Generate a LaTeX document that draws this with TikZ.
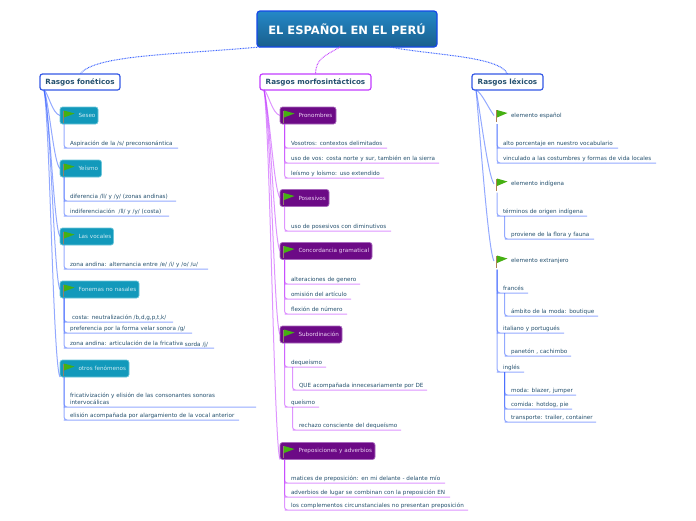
\documentclass[tikz,border=0pt]{standalone}
\usepackage{fontspec}
\setmainfont{DejaVu Sans}
\definecolor{bluel}{HTML}{3A62FF}
\definecolor{magl}{HTML}{C23CFF}
\definecolor{txt}{HTML}{24506E}
\definecolor{HTMLteal}{HTML}{1299BB}
\definecolor{HTMLtealb}{HTML}{6CC6DA}
\definecolor{HTMLtealt}{HTML}{CFEAF2}
\definecolor{HTMLpurp}{HTML}{6C0A86}
\definecolor{HTMLpurpb}{HTML}{A868BC}
\definecolor{HTMLpurpt}{HTML}{EBD2F2}
\definecolor{HTMLta}{HTML}{2488C8}
\definecolor{HTMLtb}{HTML}{1A5F8C}
\definecolor{HTMLtc}{HTML}{1448E8}
\definecolor{flagg}{HTML}{45B012}
\tikzset{
 every node/.style={outer sep=0pt},
 leaf/.style={inner xsep=0pt,inner ysep=1.7pt,text depth=1.2pt,align=left,text=txt,font=\fontsize{5.65}{7}\selectfont},
 conn/.style={line width=1pt,draw opacity=.55,rounded corners=3pt,line join=round},
 branch/.style={line width=1pt,draw opacity=.55},
 top/.style={rounded corners=2.5pt,fill=white,line width=1.2pt,anchor=north west,inner sep=0pt,minimum height=16pt,text=txt,font=\bfseries\fontsize{7.2}{8}\selectfont},
 subbox/.style={rounded corners=2.5pt,line width=.7pt,anchor=north west,inner xsep=0pt,inner ysep=0pt,minimum height=17pt,align=left,font=\fontsize{5.65}{7}\selectfont},
 teal/.style={subbox,fill=HTMLteal,draw=HTMLtealb,text=HTMLtealt},
 purp/.style={subbox,fill=HTMLpurp,draw=HTMLpurpb,text=HTMLpurpt},
 plain/.style={anchor=north west,inner xsep=0pt,inner ysep=0pt,minimum height=17pt,align=left,text=txt,font=\fontsize{5.65}{7}\selectfont},
 dots/.style={line width=1pt,dash pattern=on .8pt off .8pt},
}
% leaf: colour, name, parent, trunk offset, text x, underline y, right x, text
\newcommand\lf[8]{%
 \pgfmathsetlengthmacro\lfw{(#7-#5)*1pt}%
 \node[leaf,text width=\lfw,anchor=south west] (#2) at (#5,#6) {\mbox{#8}};
 \draw[conn,#1] ([xshift=#4pt]#3.south west) |- ([xshift=-3pt]#2.south west) -- (#2.south east);
}
% sub box: style, name, x, y, width, text
\newcommand\sbx[6]{%
 \node[#1,text width=#5pt] (#2) at (#3,#4) {\hspace*{18.5pt}#6};
 \coordinate (#2f) at ([xshift=3pt,yshift=-3.5pt]#2.north west);
 \fill[gray!70!brown] (#2f) rectangle ([xshift=1.2pt,yshift=-12pt]#2f);
 \fill[flagg] ([xshift=1pt]#2f) -- ([xshift=11.5pt,yshift=-3pt]#2f) -- ([xshift=1pt,yshift=-7pt]#2f) -- cycle;
}
\begin{document}
\begin{tikzpicture}[x=1pt,y=-1pt]
\useasboundingbox (0,0) rectangle (696,520);
% title
\node[anchor=north west,minimum width=180pt,minimum height=36pt,inner sep=0pt,rounded corners=3pt,
  top color=HTMLta,bottom color=HTMLtb,draw=HTMLtc,line width=1.2pt,text=white,font=\bfseries\fontsize{11.5}{13}\selectfont] (main) at (257,11) {EL ESPAÑOL EN EL PERÚ};
\node[top,draw=bluel!90!black,minimum width=80pt] (fon) at (40,74) {Rasgos fonéticos};
\node[top,draw=magl,minimum width=111pt] (mor) at (260,74) {Rasgos morfosintácticos};
\node[top,draw=bluel!90!black,minimum width=71pt] (lex) at (472,74) {Rasgos léxicos};
\draw[dots,bluel] ([xshift=3pt]main.south west) .. controls (170,55) and (95,55) .. (fon.north);
\draw[dots,magl] ([xshift=83pt]main.south west) .. controls (325,56) and (316,58) .. (mor.north);
\draw[dots,bluel] ([xshift=133pt]main.south west) .. controls (430,55) and (500,56) .. ([xshift=0pt]lex.north);
% left
\sbx{teal}{seseo}{60}{107}{38}{Seseo}
\sbx{teal}{yeismo}{60}{160}{41.5}{Yeísmo}
\sbx{teal}{voc}{60}{228}{53.5}{Las vocales}
\sbx{teal}{fonem}{60}{281}{79}{Fonemas no nasales}
\sbx{teal}{otros}{60}{360}{69}{otros fenómenos}
\draw[branch,bluel] ([xshift=4pt]fon.south west) .. controls +(4,2) and +(-8,-2) .. (seseo.west);
\draw[branch,bluel] ([xshift=4pt]fon.south west) .. controls +(5,12) and +(-6,-4) .. (yeismo.west);
\draw[branch,bluel] ([xshift=4pt]fon.south west) .. controls +(6,25) and +(-6,-8) .. (voc.west);
\draw[branch,bluel] ([xshift=4pt]fon.south west) .. controls +(7,30) and +(-6,-10) .. (fonem.west);
\draw[branch,bluel] ([xshift=4pt]fon.south west) .. controls +(6,35) and +(-7,-12) .. (otros.south west);
\lf{bluel}{a1}{seseo}{4}{70}{148}{178}{Aspiración de la /s/ preconsonántica}
\lf{bluel}{a2}{yeismo}{4}{70}{201}{176}{diferencia /ll/ y /y/ (zonas andinas)}
\lf{bluel}{a3}{yeismo}{4}{70}{216}{169}{indiferenciación\ \ /ll/ y /y/ (costa)}
\lf{bluel}{a4}{voc}{4}{70}{269}{208}{zona andina: alternancia entre /e/ /i/ y /o/ /u/}
\lf{bluel}{a5}{fonem}{4}{70}{322}{173}{\hspace*{2pt}costa: neutralización /b,d,g,p,t,k/}
\lf{bluel}{a6}{fonem}{4}{70}{333}{192}{preferencia por la forma velar sonora /g/}
\lf{bluel}{a7}{fonem}{4}{70}{348}{214}{zona andina: articulación de la fricativa \raisebox{-1pt}{sorda /j/}}
\lf{bluel}{a8}{otros}{4}{70}{407}{256}{\parbox[b]{186pt}{\raggedright fricativización y elisión de las consonantes sonoras\\intervocálicas}}
\lf{bluel}{a9}{otros}{4}{70}{420}{239}{elisión acompañada por alargamiento de la vocal anterior}
% middle
\sbx{purp}{pron}{280}{107}{56}{Pronombres}
\sbx{purp}{pos}{280}{189.5}{49}{Posesivos}
\sbx{purp}{conc}{280}{242.5}{92}{Concordancia gramatical}
\sbx{purp}{subo}{280}{326}{62}{Subordinación}
\sbx{purp}{prep}{280}{442.5}{95}{Preposiciones y adverbios}
\draw[branch,magl] ([xshift=4pt]mor.south west) .. controls +(4,2) and +(-8,-2) .. (pron.west);
\draw[branch,magl] ([xshift=4pt]mor.south west) .. controls +(6,25) and +(-6,-8) .. (pos.west);
\draw[branch,magl] ([xshift=4pt]mor.south west) .. controls +(7,30) and +(-6,-10) .. (conc.west);
\draw[branch,magl] ([xshift=4pt]mor.south west) .. controls +(7,35) and +(-6,-10) .. (subo.west);
\draw[branch,magl] ([xshift=4pt]mor.south west) .. controls +(6,40) and +(-6,-14) .. (prep.south west);
\lf{magl}{b1}{pron}{4.5}{291}{148}{387}{Vosotros: contextos delimitados}
\lf{magl}{b2}{pron}{4.5}{291}{163}{439}{uso de vos: costa norte y sur, también en la sierra}
\lf{magl}{b3}{pron}{4.5}{291}{178}{384}{leísmo y loísmo: uso extendido}
\lf{magl}{b4}{pos}{4.5}{291}{231}{391}{uso de posesivos con diminutivos}
\lf{magl}{b5}{conc}{4.5}{291}{284}{360}{alteraciones de genero}
\lf{magl}{b6}{conc}{4.5}{291}{299}{351}{omisión del artículo}
\lf{magl}{b7}{conc}{4.5}{291}{314}{347}{flexión de número}
\lf{magl}{b8}{subo}{4.5}{291}{367}{326}{dequeísmo}
\lf{magl}{b9}{b8}{1.5}{299}{390}{427}{QUE acompañada innecesariamente por DE}
\lf{magl}{b10}{subo}{4.5}{291}{407}{319}{queísmo}
\lf{magl}{b11}{b10}{1.5}{299}{430}{401}{rechazo consciente del dequeísmo}
\lf{magl}{b12}{prep}{4.5}{291}{483}{445}{matices de preposición: en mi delante - delante mío}
\lf{magl}{b13}{prep}{4.5}{291}{497}{450}{adverbios de lugar se combinan con la preposición EN}
\lf{magl}{b14}{prep}{4.5}{291}{510}{468}{los complementos circunstanciales no presentan preposición}
% right
\node[plain,text width=77pt] (esp) at (494,107) {\hspace*{17pt}elemento español};
\node[plain,text width=77pt] (ind) at (494,175.5) {\hspace*{17pt}elemento indígena};
\node[plain,text width=85pt] (ext) at (494,252.5) {\hspace*{17pt}elemento extranjero};
\foreach \n in {esp,ind,ext}{
 \coordinate (f\n) at ([xshift=2pt,yshift=-3pt]\n.north west);
 \fill[brown!70!gray] (f\n) rectangle ([xshift=1.2pt,yshift=-12pt]f\n);
 \fill[flagg] ([xshift=1pt]f\n) -- ([xshift=11.5pt,yshift=-3pt]f\n) -- ([xshift=1pt,yshift=-7.5pt]f\n) -- cycle;
}
\draw[branch,bluel] ([xshift=4pt]lex.south west) .. controls +(6,3) and +(-6,-8) .. (esp.west);
\draw[branch,bluel] ([xshift=4pt]lex.south west) .. controls +(4,20) and +(-6,-8) .. (ind.west);
\draw[branch,bluel] ([xshift=4pt]lex.south west) .. controls +(3,30) and +(-6,-10) .. (ext.west);
\lf{bluel}{c1}{esp}{3}{503}{148}{618}{alto porcentaje en nuestro vocabulario}
\lf{bluel}{c2}{esp}{3}{503}{163}{656}{vinculado a las costumbres y formas de vida locales}
\lf{bluel}{c3}{ind}{3}{503}{216}{587}{términos de origen indígena}
\lf{bluel}{c4}{c3}{1.5}{511}{239}{594}{proviene de la flora y fauna}
\lf{bluel}{c5}{ext}{3}{503}{293}{528}{francés}
\lf{bluel}{c6}{c5}{1.5}{511}{316}{598}{ámbito de la moda: boutique}
\lf{bluel}{c7}{ext}{3}{503}{333}{564}{italiano y portugués}
\lf{bluel}{c8}{c7}{1.5}{511}{356}{571}{panetón , cachimbo}
\lf{bluel}{c9}{ext}{3}{503}{372}{524}{inglés}
\lf{bluel}{c10}{c9}{1.5}{511}{395}{576}{moda: blazer, jumper}
\lf{bluel}{c11}{c9}{1.5}{511}{409}{572}{comida: hotdog, pie}
\lf{bluel}{c12}{c9}{1.5}{511}{422}{596}{transporte: trailer, container}
\end{tikzpicture}
\end{document}
